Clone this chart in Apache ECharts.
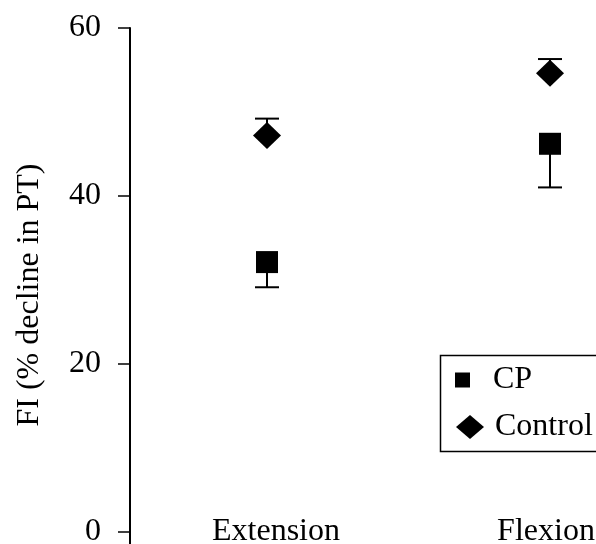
<!DOCTYPE html>
<html><head><meta charset="utf-8">
<script src="https://cdn.jsdelivr.net/npm/echarts@6/dist/echarts.min.js"></script>
<style>html,body{margin:0;padding:0;background:#fff}#chart{width:596px;height:544px}</style>
</head><body><div id="chart"></div>
<script>
// Fatigue index per movement, mean with one-sided error bars
const categories = ['Extension', 'Flexion'];
const cpMean = [32.1, 46.2];
const cpLower = [29.1, 41.0];
const controlMean = [47.2, 54.6];
const controlUpper = [49.2, 56.3];
const yTicks = [0, 20, 40, 60];
const xTicks = [0, 1];

const FONT = '"Liberation Serif", "Times New Roman", serif';
const FS = 32;

function errorBar(params, api) {
  const x = api.value(0);
  const p0 = api.coord([x, api.value(1)]);
  const p1 = api.coord([x, api.value(2)]);
  const half = 12;
  const st = { stroke: '#000', lineWidth: 2 };
  return {
    type: 'group',
    children: [
      { type: 'line', shape: { x1: p0[0], y1: p0[1], x2: p1[0], y2: p1[1] }, style: st },
      { type: 'line', shape: { x1: p1[0] - half, y1: p1[1], x2: p1[0] + half, y2: p1[1] }, style: st }
    ]
  };
}

const labelText = { fontSize: FS, fontFamily: FONT, color: '#000' };

const chart = echarts.init(document.getElementById('chart'), null, { renderer: 'canvas' });
chart.setOption({
  animation: false,
  backgroundColor: '#fff',
  textStyle: { fontFamily: FONT, color: '#000' },
  grid: { left: 130, right: 0, top: 28, bottom: 0, outerBoundsMode: 'none' },
  xAxis: {
    type: 'value',
    min: -0.4841,
    max: 1.1625,
    axisLine: { show: false },
    axisTick: { show: false },
    splitLine: { show: false },
    axisLabel: {
      customValues: xTicks,
      formatter: v => (Math.round(v) === 0 ? '{a|' : '{b|') + categories[Math.round(v)] + '}',
      margin: -28,
      rich: {
        a: Object.assign({ padding: [0, 0, 0, 18] }, labelText),
        b: Object.assign({ padding: [0, 8, 0, 0] }, labelText)
      }
    }
  },
  yAxis: {
    type: 'value',
    min: -1.5,
    max: 60,
    name: 'FI (% decline in PT)',
    nameLocation: 'middle',
    nameGap: 84,
    nameTextStyle: Object.assign({ padding: [0, 18, 0, 0] }, labelText),
    axisLine: { show: true, onZero: false, lineStyle: { color: '#000', width: 2 } },
    axisTick: { show: true, length: 12, customValues: yTicks, lineStyle: { color: '#000', width: 1.5 } },
    axisLabel: Object.assign({ customValues: yTicks, margin: 29 }, labelText),
    splitLine: { show: false }
  },
  legend: [
    {
      data: [{ name: 'CP', icon: 'rect' }],
      left: 455, top: 364, padding: 0,
      itemWidth: 15, itemHeight: 15,
      itemStyle: { color: '#000', opacity: 1 },
      textStyle: Object.assign({ padding: [0, 0, 0, 18] }, labelText),
      selectedMode: false
    },
    {
      data: [{ name: 'Control', icon: 'diamond' }],
      left: 456, top: 411, padding: 0,
      itemWidth: 28, itemHeight: 24,
      itemStyle: { color: '#000', opacity: 1 },
      textStyle: Object.assign({ padding: [0, 0, 0, 6] }, labelText),
      selectedMode: false
    }
  ],
  graphic: [
    { type: 'rect', left: 438, top: 353, shape: { width: 180, height: 96 },
      style: { fill: 'none', stroke: '#000', lineWidth: 1.5 }, z: 100 }
  ],
  series: [
    {
      type: 'custom', name: 'CP error', renderItem: errorBar, z: 1,
      encode: { x: 0, y: [1, 2] },
      data: xTicks.map(i => [i, cpMean[i], cpLower[i]])
    },
    {
      type: 'custom', name: 'Control error', renderItem: errorBar, z: 1,
      encode: { x: 0, y: [1, 2] },
      data: xTicks.map(i => [i, controlMean[i], controlUpper[i]])
    },
    {
      type: 'scatter', name: 'CP', symbol: 'rect', symbolSize: 22, z: 3,
      itemStyle: { color: '#000', opacity: 1 },
      data: xTicks.map(i => [i, cpMean[i]])
    },
    {
      type: 'scatter', name: 'Control', symbol: 'diamond', symbolSize: [28, 27], z: 3,
      itemStyle: { color: '#000', opacity: 1 },
      data: xTicks.map(i => [i, controlMean[i]])
    }
  ]
});
</script>
</body></html>
